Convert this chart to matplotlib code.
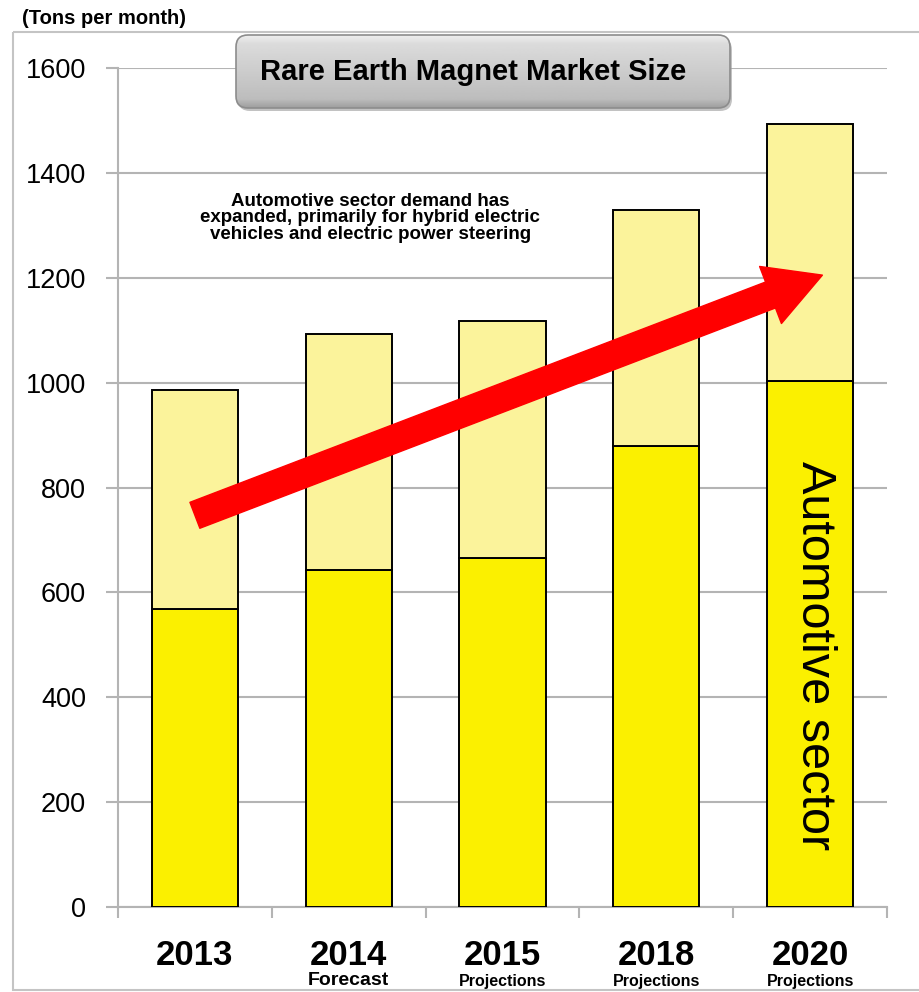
import numpy as np
import matplotlib
matplotlib.use('Agg')
import matplotlib.pyplot as plt
from matplotlib.patches import FancyBboxPatch, FancyArrowPatch, Rectangle

# market size in tons per month
years = ['2013', '2014', '2015', '2018', '2020']
notes = ['', 'Forecast', 'Projections', 'Projections', 'Projections']
automotive = [568, 643, 665, 879, 1003]
total = [986, 1093, 1117, 1329, 1493]
other = [t - a for t, a in zip(total, automotive)]

font = ['Liberation Sans', 'DejaVu Sans']

W, H = 919, 992
fig = plt.figure(figsize=(W / 100, H / 100), dpi=100)
fig.patch.set_facecolor('white')

ax = fig.add_axes([118 / W, 1 - 907 / H, 769 / W, 839 / H])
x = np.arange(len(years))
grid_c = '#b4b4b4'

ax.bar(x, automotive, width=0.56, color='#fbf000', edgecolor='black', linewidth=1.4, zorder=3)
ax.bar(x, other, bottom=automotive, width=0.56, color='#fbf39b', edgecolor='black',
       linewidth=1.4, zorder=3)

ax.set_xlim(-0.5, len(years) - 0.5)
ax.set_ylim(0, 1600)
ax.set_yticks(np.arange(0, 1601, 200))
ax.set_yticklabels([str(v) for v in range(0, 1601, 200)], family=font, fontsize=19.5)
ax.tick_params(axis='y', length=9, width=1.5, color=grid_c, pad=14)
ax.yaxis.grid(True, color=grid_c, linewidth=1.5, zorder=0)

ax.set_xticks(x)
ax.set_xticklabels(years, family=font, fontsize=25, fontweight='bold')
ax.tick_params(axis='x', length=0, pad=23)
ax.set_xticks(np.arange(-0.5, len(years)), minor=True)
ax.tick_params(axis='x', which='minor', length=8, width=1.5, color=grid_c)

for side in ['top', 'right']:
    ax.spines[side].set_visible(False)
for side in ['left', 'bottom']:
    ax.spines[side].set_color(grid_c)
    ax.spines[side].set_linewidth(1.5)

# sub labels under the years, sitting on the bottom frame line
for i, n in enumerate(notes):
    if n:
        ax.text(i, -82 / 839, n, transform=ax.get_xaxis_transform(), ha='center', va='bottom',
                family=font, fontweight='bold', fontsize=14 if n == 'Forecast' else 11.5,
                clip_on=False)

# growth arrow
arrow = FancyArrowPatch((0.0, 747), (4.08, 1205),
                        arrowstyle='simple,tail_width=1.0,head_width=2.2,head_length=2.0',
                        mutation_scale=20, color='#ff0000', shrinkA=0, shrinkB=0, zorder=5)
ax.add_patch(arrow)

ax.text(1.14, 1314, 'Automotive sector demand has\nexpanded, primarily for hybrid electric\n'
        'vehicles and electric power steering', ha='center', va='center', family=font,
        fontweight='bold', fontsize=13.5, linespacing=0.98, zorder=6)

ax.text(4.03, 480, 'Automotive sector', rotation=270, ha='center', va='center',
        family=font, fontsize=35, zorder=6)

# overlay for frame, title box and unit label
ov = fig.add_axes([0, 0, 1, 1], zorder=10)
ov.set_xlim(0, W)
ov.set_ylim(H, 0)
ov.axis('off')
ov.patch.set_alpha(0)

ov.add_patch(Rectangle((13, 32), W, 958, fill=False, edgecolor='#c4c4c4', linewidth=1.5))
ov.text(22, 18, '(Tons per month)', family=font, fontweight='bold', fontsize=14.5,
        ha='left', va='center')

bx, by, bw, bh = 236, 35, 494, 73
shadow = FancyBboxPatch((bx + 2, by + 3), bw, bh, boxstyle='round,pad=0,rounding_size=12',
                        facecolor='#9a9a9a', edgecolor='none', alpha=0.6)
ov.add_patch(shadow)
box = FancyBboxPatch((bx, by), bw, bh, boxstyle='round,pad=0,rounding_size=12',
                     facecolor='none', edgecolor='#8c8c8c', linewidth=1.2, zorder=3)
ov.add_patch(box)
grad = np.interp(np.linspace(0, 1, 100), [0, 0.12, 0.5, 0.88, 1], [0.93, 0.86, 0.80, 0.74, 0.62])
img = ov.imshow(grad[:, None], cmap='gray', vmin=0, vmax=1, aspect='auto',
                extent=(bx, bx + bw, by + bh, by), zorder=2)
img.set_clip_path(box)
ov.set_xlim(0, W)
ov.set_ylim(H, 0)
ov.text(bx + bw / 2 - 10, by + bh / 2 + 1, 'Rare Earth Magnet Market Size', family=font,
        fontweight='bold', fontsize=21, ha='center', va='center', zorder=4)

fig.savefig('out.png', dpi=100)
